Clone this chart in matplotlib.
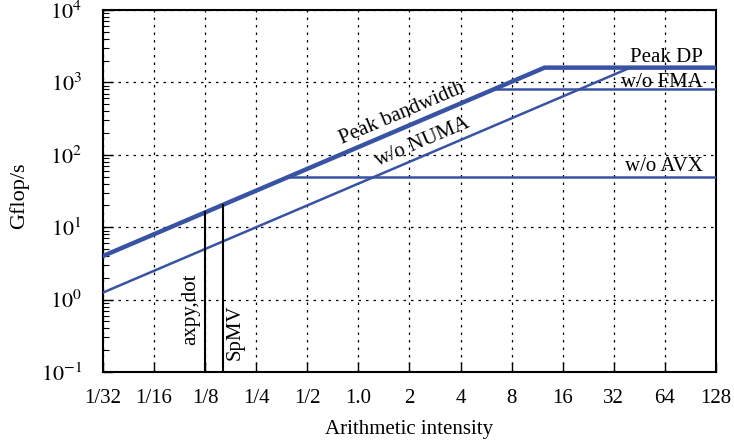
import matplotlib
matplotlib.use("Agg")
import matplotlib.pyplot as plt
from matplotlib.ticker import FixedLocator, LogLocator, NullFormatter

plt.rcParams["font.family"] = ["Liberation Serif", "DejaVu Serif"]
plt.rcParams["mathtext.fontset"] = "stix"

# roofline parameters (Gflop/s, GB/s)
peak_dp = 1600.0
ceilings = [("w/o FMA", 800.0), ("w/o AVX", 50.0)]
bw_peak = 128.0
bw_numa = 40.0

# kernels: arithmetic intensity
kernels = [("axpy,dot", 0.125), ("SpMV", 0.16)]

xticks = [1/32, 1/16, 1/8, 1/4, 1/2, 1.0, 2, 4, 8, 16, 32, 64, 128]
xlabels = ["1/32", "1/16", "1/8", "1/4", "1/2", "1.0", "2", "4", "8", "16", "32", "64", "128"]
yticks = [1e-1, 1e0, 1e1, 1e2, 1e3, 1e4]
ylabels = ["$10^{-1}$", "$10^{0}$", "$10^{1}$", "$10^{2}$", "$10^{3}$", "$10^{4}$"]

blue = "#3853a4"
xmin, xmax = xticks[0], xticks[-1]

fig = plt.figure(figsize=(7.34, 4.43), dpi=100)
ax = fig.add_axes([0.1403, 0.1603, 0.8352, 0.8171])
ax.set_xscale("log", base=2)
ax.set_yscale("log")
ax.set_xlim(xmin, xmax)
ax.set_ylim(yticks[0], yticks[-1])

# peak roof
ridge = peak_dp / bw_peak
ax.plot([xmin, ridge, xmax], [bw_peak * xmin, peak_dp, peak_dp], color=blue, lw=3.2,
        solid_joinstyle="miter", zorder=3)
# compute ceilings
for name, val in ceilings:
    ax.plot([val / bw_peak, xmax], [val, val], color=blue, lw=1.8, zorder=3)
# bandwidth ceiling without NUMA
ax.plot([xmin, peak_dp / bw_numa], [bw_numa * xmin, peak_dp], color=blue, lw=1.8, zorder=3)

# kernel markers
for name, ai in kernels:
    ax.plot([ai, ai], [yticks[0], bw_peak * ai], color="black", lw=1.5, zorder=4)

fs = 15
ax.text(0.117, 0.74, kernels[0][0], rotation=90, ha="right", va="center", fontsize=fs)
ax.text(0.165, 0.36, kernels[1][0], rotation=90, ha="left", va="center", fontsize=fs)

ax.text(1.8, 370, "Peak bandwidth", rotation=23, ha="center", va="center",
        fontsize=fs, rotation_mode="anchor")
ax.text(2.4, 148, "w/o NUMA", rotation=23, ha="center", va="center",
        fontsize=fs, rotation_mode="anchor")
ax.text(107, 2200, "Peak DP", ha="right", va="center", fontsize=fs)
ax.text(107, 1000, ceilings[0][0], ha="right", va="center", fontsize=fs)
ax.text(107, 70, ceilings[1][0], ha="right", va="center", fontsize=fs)

ax.xaxis.set_major_locator(FixedLocator(xticks))
ax.set_xticklabels(xlabels, fontsize=fs)
ax.xaxis.set_minor_locator(FixedLocator([]))
ax.yaxis.set_major_locator(FixedLocator(yticks))
ax.set_yticklabels(ylabels, fontsize=fs + 1)
ax.yaxis.set_minor_locator(LogLocator(base=10, subs=range(2, 10)))
ax.yaxis.set_minor_formatter(NullFormatter())
ax.tick_params(which="both", direction="in", top=False, right=False)
ax.tick_params(which="major", length=7, width=1.0)
ax.tick_params(which="minor", length=4, width=0.8)
ax.tick_params(axis="x", which="major", pad=12)
ax.tick_params(axis="y", which="major", pad=15)

ax.grid(which="major", color="black", linestyle=(0, (2, 4)), linewidth=0.9)
for sp in ax.spines.values():
    sp.set_linewidth(1.5)

ax.set_xlabel("Arithmetic intensity", fontsize=fs)
ax.set_ylabel("Gflop/s", fontsize=fs + 1)
ax.xaxis.set_label_coords(0.50, -0.133)
ax.yaxis.set_label_coords(-0.121, 0.486)

fig.savefig("out.png", dpi=100)
